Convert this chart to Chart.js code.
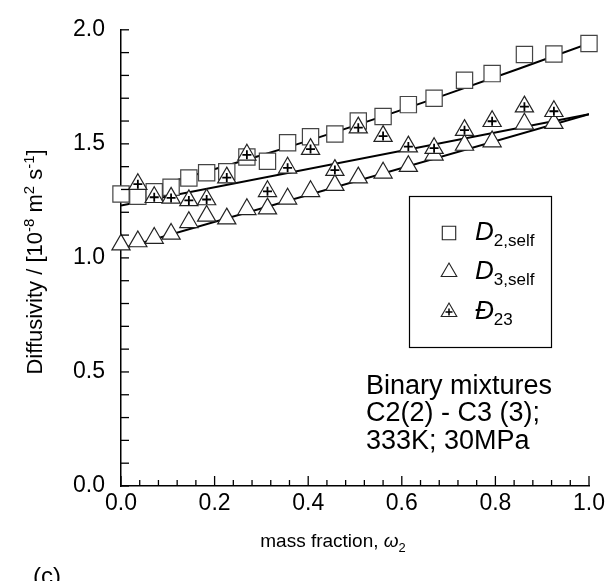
<!DOCTYPE html>
<html>
<head>
<meta charset="utf-8">
<script src="https://cdn.jsdelivr.net/npm/chart.js@4.4.1/dist/chart.umd.min.js"></script>
<style>
    html, body { margin: 0; padding: 0; background: #fff; }
    #wrap { width: 610px; height: 581px; }
</style>
</head>
<body>
<div id="wrap"><canvas id="diffChart" width="610" height="581"></canvas></div>
<script>
// mass fraction of C2 for every simulated state point
const massFraction = [0.0, 0.036, 0.071, 0.107, 0.145, 0.183, 0.226, 0.269, 0.313, 0.356, 0.405,
                      0.457, 0.507, 0.56, 0.614, 0.669, 0.734, 0.793, 0.862, 0.925, 1.0];
// self diffusivity of C2
const d2Self = [1.28, 1.27, 1.29, 1.31, 1.35, 1.373, 1.378, 1.442, 1.424, 1.505, 1.531,
                1.543, 1.60, 1.62, 1.672, 1.70, 1.779, 1.808, 1.892, 1.894, 1.94];
// self diffusivity of C3
const d3Self = [1.058, 1.072, 1.087, 1.105, 1.156, 1.184, 1.172, 1.213, 1.216, 1.259, 1.292,
                1.319, 1.352, 1.373, 1.402, 1.452, 1.495, 1.51, 1.588, 1.591, null];
// Maxwell-Stefan diffusivity
const dMS23 = [null, 1.323, 1.266, 1.263, 1.252, 1.256, 1.352, 1.452, 1.292, 1.395, 1.477,
               1.385, 1.571, 1.534, 1.488, 1.481, 1.56, 1.599, 1.663, 1.643, null];

// fitted curves
const d2FitX = [0.0, 0.3, 0.5, 0.7, 1.0];
const d2FitY = [1.27, 1.45, 1.58, 1.72, 1.94];
const d3FitX = [0.0, 1.0];
const d3FitY = [1.04, 1.63];
const d23FitX = [0.0, 1.0];
const d23FitY = [1.23, 1.63];

const xTickLabels = ['0.0', '0.2', '0.4', '0.6', '0.8', '1.0'];
const yTickLabels = ['0.0', '0.5', '1.0', '1.5', '2.0'];

const FONT = '"Liberation Sans", Arial, sans-serif';

function pts(xs, ys) {
    const out = [];
    xs.forEach(function(x, i) {
        if (ys[i] !== null) out.push({x: x, y: ys[i]});
    });
    return out;
}

function majorLabel(v, step, labels) {
    const k = Math.round(v / step);
    return Math.abs(v / step - k) < 1e-6 ? labels[k] : '';
}

// draw a run of text pieces (normal / italic / sub / sup) centred on x
function drawRich(ctx, parts, x, y, size) {
    let total = 0;
    const fonts = parts.map(function(p) {
        const s = (p.sub || p.sup) ? size * 0.68 : size;
        const f = (p.italic ? 'italic ' : '') + s + 'px ' + FONT;
        ctx.font = f;
        const w = ctx.measureText(p.t).width;
        total += w;
        return {f: f, w: w};
    });
    let cx = x - total / 2;
    parts.forEach(function(p, i) {
        ctx.font = fonts[i].f;
        let dy = 0;
        if (p.sup) dy = -size * 0.38;
        if (p.sub) dy = size * 0.25;
        ctx.fillText(p.t, cx, y + dy);
        cx += fonts[i].w;
    });
}

const extras = {
    id: 'extras',
    afterDraw(chart) {
        const ctx = chart.ctx;
        const xs = chart.scales.x, ys = chart.scales.y;
        const area = chart.chartArea;
        ctx.save();
        ctx.strokeStyle = '#000';
        ctx.fillStyle = '#000';
        ctx.lineWidth = 1.3;

        // inward tick marks
        xs.ticks.forEach(function(t) {
            const px = xs.getPixelForValue(t.value);
            const len = majorLabel(t.value, 0.2, xTickLabels) ? 10 : 6;
            ctx.beginPath();
            ctx.moveTo(px, area.bottom);
            ctx.lineTo(px, area.bottom - len);
            ctx.stroke();
        });
        ys.ticks.forEach(function(t) {
            const py = ys.getPixelForValue(t.value);
            ctx.beginPath();
            ctx.moveTo(area.left, py);
            ctx.lineTo(area.left + 8, py);
            ctx.stroke();
        });

        ctx.textBaseline = 'alphabetic';
        ctx.textAlign = 'left';

        // x title
        drawRich(ctx, [
            {t: 'mass fraction, '},
            {t: '\u03c9', italic: true},
            {t: '2', sub: true}
        ], 333, 547, 19);

        // y title
        ctx.save();
        ctx.translate(42, 262);
        ctx.rotate(-Math.PI / 2);
        drawRich(ctx, [
            {t: 'Diffusivity / [10'},
            {t: '-8', sup: true},
            {t: ' m'},
            {t: '2', sup: true},
            {t: ' s'},
            {t: '-1', sup: true},
            {t: ']'}
        ], 0, 0, 22);
        ctx.restore();

        // legend box
        ctx.lineWidth = 1.2;
        ctx.strokeRect(409.5, 196.5, 142, 151);
        const legendRows = [
            {style: 'rect', r: 9.5, main: 'D', sub: '2,self', y: 240},
            {style: 'triangle', r: 9, main: 'D', sub: '3,self', y: 279},
            {style: 'triangle', r: 9, main: '\u0110', sub: '23', y: 319, cross: true}
        ];
        legendRows.forEach(function(row) {
            ctx.fillStyle = '#fff';
            ctx.strokeStyle = '#222';
            ctx.lineWidth = 1.1;
            Chart.helpers.drawPoint(ctx, {pointStyle: row.style, radius: row.r, rotation: 0, borderWidth: 1.1}, 449, row.y - 7);
            if (row.cross) {
                ctx.strokeStyle = '#000';
                ctx.lineWidth = 1.5;
                Chart.helpers.drawPoint(ctx, {pointStyle: 'cross', radius: 3.5, rotation: 0, borderWidth: 1.5}, 449, row.y - 7);
            }
            ctx.fillStyle = '#000';
            ctx.font = 'italic 26px ' + FONT;
            ctx.fillText(row.main, 475, row.y);
            const w = ctx.measureText(row.main).width;
            ctx.font = '17px ' + FONT;
            ctx.fillText(row.sub, 475 + w, row.y + 6);
        });

        // annotation
        ctx.font = '27px ' + FONT;
        ctx.fillText('Binary mixtures', 366, 394);
        ctx.fillText('C2(2) - C3 (3);', 366, 421);
        ctx.fillText('333K; 30MPa', 366, 449);

        // panel label
        ctx.font = '24px ' + FONT;
        ctx.fillText('(c)', 33, 584);

        ctx.restore();
    }
};

const markerBase = {
    showLine: false,
    backgroundColor: '#fff',
    borderColor: '#222',
    pointBorderWidth: 1.2,
    clip: false
};

const fitBase = {
    showLine: true,
    pointRadius: 0,
    borderColor: '#000',
    borderWidth: 2,
    fill: false
};

new Chart(document.getElementById('diffChart').getContext('2d'), {
    type: 'scatter',
    data: {
        datasets: [
            Object.assign({}, markerBase, {label: 'D23 cross', data: pts(massFraction, dMS23), pointStyle: 'cross', pointRadius: 4.5, borderColor: '#000', pointBorderWidth: 1.8, order: 0}),
            Object.assign({}, markerBase, {label: 'D23', data: pts(massFraction, dMS23), pointStyle: 'triangle', pointRadius: 10.5, order: 1}),
            Object.assign({}, markerBase, {label: 'D3,self', data: pts(massFraction, d3Self), pointStyle: 'triangle', pointRadius: 10.5, order: 2}),
            Object.assign({}, markerBase, {label: 'D2,self', data: pts(massFraction, d2Self), pointStyle: 'rect', pointRadius: 11.5, borderColor: '#444', order: 3}),
            Object.assign({}, fitBase, {label: 'fit D2', data: pts(d2FitX, d2FitY), tension: 0.35, order: 4}),
            Object.assign({}, fitBase, {label: 'fit D3', data: pts(d3FitX, d3FitY), order: 5}),
            Object.assign({}, fitBase, {label: 'fit D23', data: pts(d23FitX, d23FitY), order: 6})
        ]
    },
    options: {
        responsive: false,
        animation: false,
        layout: {
            padding: {top: 21, right: 21, left: 0, bottom: 0}
        },
        plugins: {
            legend: {display: false},
            tooltip: {enabled: false}
        },
        scales: {
            x: {
                type: 'linear',
                min: 0,
                max: 1,
                afterFit: function(s) { s.height = 95; },
                border: {display: true, color: '#000', width: 1.5},
                grid: {display: false, drawTicks: false},
                ticks: {
                    stepSize: 0.04,
                    autoSkip: false,
                    maxRotation: 0,
                    padding: 4,
                    color: '#000',
                    font: {family: FONT, size: 23},
                    callback: function(v) { return majorLabel(v, 0.2, xTickLabels); }
                }
            },
            y: {
                type: 'linear',
                min: 0,
                max: 2,
                afterFit: function(s) { s.width = 121; },
                border: {display: true, color: '#000', width: 1.5},
                grid: {display: false, drawTicks: false},
                ticks: {
                    stepSize: 0.1,
                    autoSkip: false,
                    padding: 16,
                    color: '#000',
                    font: {family: FONT, size: 23},
                    callback: function(v) { return majorLabel(v, 0.5, yTickLabels); }
                }
            }
        }
    },
    plugins: [extras]
});
</script>
</body>
</html>
